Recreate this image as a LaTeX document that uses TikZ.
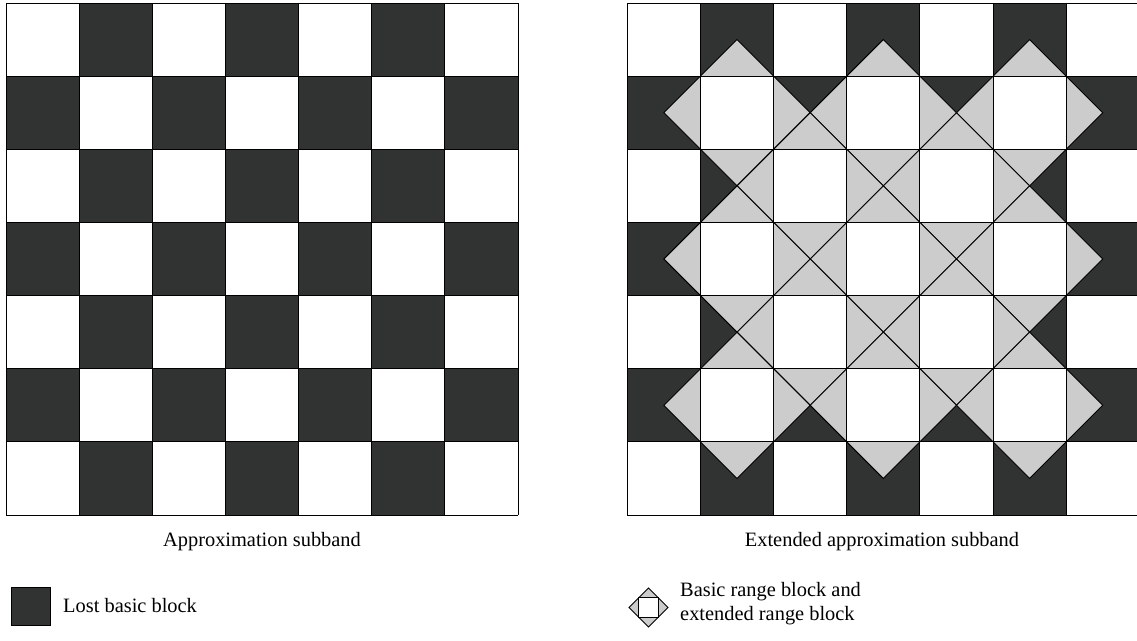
\documentclass[tikz,border=0pt]{standalone}
\usepackage{fontspec}
\setmainfont{Liberation Serif}
\usetikzlibrary{calc}
\begin{document}
\begin{tikzpicture}[x=1pt,y=-1pt,
  grayfill/.style={fill=rangegray,draw=black,line width=0.9pt,line join=miter},
  lbl/.style={font=\fontsize{20.4}{24}\selectfont,inner sep=0pt}]
\definecolor{blockdark}{HTML}{313332}
\definecolor{rangegray}{HTML}{CCCCCC}
\useasboundingbox (0,0) rectangle (1137,640);
\clip (0,0) rectangle (1137,640);
\pgfmathsetmacro{\c}{512/7}
% ---------- left grid ----------
\begin{scope}[shift={(6,3)}]
  \foreach \i in {0,...,6}{
    \foreach \j in {0,...,6}{
      \pgfmathtruncatemacro{\p}{mod(\i+\j,2)}
      \ifnum\p=1
        \fill[blockdark] (\j*\c,\i*\c) rectangle ++(\c,\c);
      \fi
    }
  }
  \foreach \k in {0,...,7}{
    \draw[line width=1pt] (\k*\c,0) -- (\k*\c,512);
    \draw[line width=1pt] (0,\k*\c) -- (512,\k*\c);
  }
\end{scope}
% ---------- right grid ----------
\begin{scope}[shift={(627.3,3)}]
  \foreach \i in {0,...,6}{
    \foreach \j in {0,...,6}{
      \pgfmathtruncatemacro{\p}{mod(\i+\j,2)}
      \ifnum\p=1
        \fill[blockdark] (\j*\c,\i*\c) rectangle ++(\c,\c);
      \fi
    }
  }
  % extended range blocks (diamonds) around interior white cells
  \foreach \i in {1,...,5}{
    \foreach \j in {1,...,5}{
      \pgfmathtruncatemacro{\p}{mod(\i+\j,2)}
      \ifnum\p=0
        \filldraw[grayfill] ({(\j+0.5)*\c},{(\i-0.5)*\c}) -- ({(\j+1.5)*\c},{(\i+0.5)*\c})
          -- ({(\j+0.5)*\c},{(\i+1.5)*\c}) -- ({(\j-0.5)*\c},{(\i+0.5)*\c}) -- cycle;
      \fi
    }
  }
  \foreach \i in {1,...,5}{
    \foreach \j in {1,...,5}{
      \pgfmathtruncatemacro{\p}{mod(\i+\j,2)}
      \ifnum\p=0
        \fill[white] (\j*\c,\i*\c) rectangle ++(\c,\c);
      \fi
    }
  }
  \foreach \k in {0,...,7}{
    \draw[line width=1pt] (\k*\c,0) -- (\k*\c,512);
    \draw[line width=1pt] (0,\k*\c) -- (512,\k*\c);
  }
\end{scope}
% ---------- captions ----------
\node[lbl] (capL) at (262,542) {Approximation subband};
\node[lbl] (capR) at (882,542) {Extended approximation subband};
% ---------- legend ----------
\node[draw=black,line width=0.8pt,fill=blockdark,minimum width=39pt,minimum height=38pt,inner sep=0pt] (leg1) at (30.5,606) {};
\node[lbl,anchor=west] (leg1t) at (63,606) {Lost basic block};
\coordinate (dm) at (648.5,607.5);
\filldraw[grayfill] ($(dm)+(0,-19.5)$) -- ($(dm)+(19.5,0)$) -- ($(dm)+(0,19.5)$) -- ($(dm)+(-19.5,0)$) -- cycle;
\node[draw=black,line width=0.9pt,fill=white,minimum size=19.5pt,inner sep=0pt] (leg2) at (dm) {};
\node[lbl,anchor=west,align=left] (leg2t) at (680,604) {Basic range block and\\extended range block};
\end{tikzpicture}
\end{document}
